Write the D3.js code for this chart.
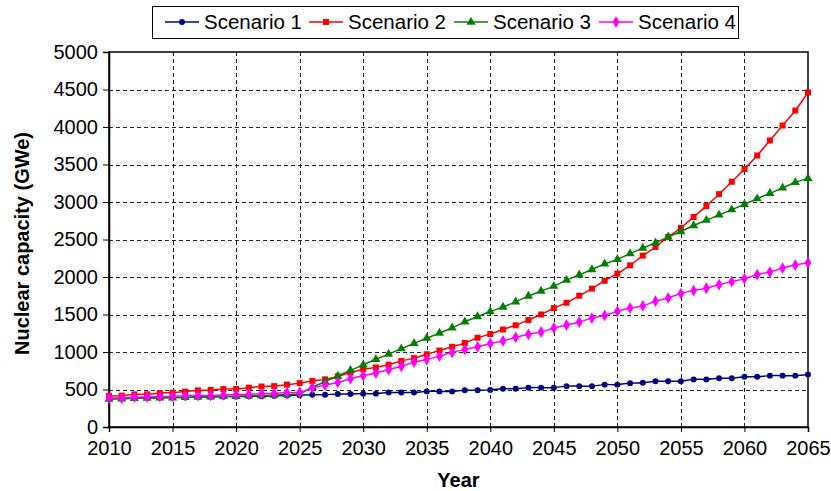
<!DOCTYPE html>
<html>
<head>
<meta charset="utf-8">
<script src="https://cdn.jsdelivr.net/npm/d3@7"></script>
<style>
  body { margin: 0; background: #fff; }
  svg { display: block; font-family: "Liberation Sans", Arial, sans-serif; }
</style>
</head>
<body>
<svg width="831" height="491"></svg>
<script>
// years 2010..2065, one value per year (GWe)
const years = d3.range(2010, 2066);

const scenario1 = [
    380, 380, 385, 390, 390, 395, 395, 400, 400, 405,
    405, 410, 410, 415, 420, 425, 430, 430, 440, 440,
    445, 445, 460, 460, 460, 475, 475, 475, 490, 490,
    495, 510, 510, 525, 525, 525, 545, 545, 545, 565,
    565, 585, 590, 610, 610, 610, 635, 635, 650, 650,
    670, 670, 685, 685, 685, 700
];
const scenario2 = [
    415, 418, 435, 436, 452, 458, 472, 488, 494, 505,
    508, 525, 540, 545, 565, 585, 615, 635, 675, 725,
    770, 795, 830, 880, 918, 970, 1020, 1070, 1120, 1190,
    1240, 1300, 1356, 1426, 1500, 1585, 1657, 1750, 1845, 1950,
    2045, 2155, 2285, 2400, 2535, 2655, 2800, 2945, 3105, 3270,
    3440, 3620, 3820, 4020, 4220, 4460
];
const scenario3 = [
    372, 375, 382, 385, 388, 390, 395, 400, 402, 408,
    410, 415, 420, 425, 432, 445, 530, 605, 680, 755,
    828, 903, 972, 1044, 1115, 1184, 1252, 1323, 1402, 1472,
    1540, 1600, 1670, 1745, 1812, 1878, 1958, 2029, 2100, 2175,
    2235, 2312, 2385, 2456, 2535, 2606, 2686, 2757, 2827, 2898,
    2969, 3044, 3115, 3190, 3261, 3315
];
const scenario4 = [
    386, 386, 398, 400, 405, 406, 418, 418, 420, 427,
    432, 436, 445, 450, 459, 462, 522, 558, 594, 644,
    684, 720, 765, 810, 864, 900, 945, 995, 1035, 1067,
    1115, 1147, 1196, 1236, 1267, 1320, 1360, 1400, 1453, 1488,
    1542, 1586, 1615, 1677, 1721, 1779, 1819, 1850, 1898, 1938,
    1978, 2031, 2066, 2119, 2159, 2190
];

const xTicks = d3.range(2010, 2066, 5);
const yTicks = d3.range(0, 5001, 500);

const series = [
    { name: 'Scenario 1', values: scenario1, color: '#000080', symbol: d3.symbolCircle, size: 28 },
    { name: 'Scenario 2', values: scenario2, color: '#FF0000', symbol: d3.symbolSquare, size: 36 },
    { name: 'Scenario 3', values: scenario3, color: '#008000', symbol: d3.symbolTriangle, size: 36 },
    { name: 'Scenario 4', values: scenario4, color: '#FF00FF', symbol: d3.symbolDiamond, size: 40 }
];

const svg = d3.select('svg');
const pL = 109, pR = 808, pT = 52, pB = 427;

const x = d3.scaleLinear().domain([2010, 2065]).range([pL, pR]);
const y = d3.scaleLinear().domain([0, 5000]).range([pB, pT]);

// grid
const grid = svg.append('g');
yTicks.slice(1, -1).forEach(d => {
    grid.append('line')
        .attr('x1', pL).attr('x2', pR)
        .attr('y1', Math.round(y(d)) + 0.5).attr('y2', Math.round(y(d)) + 0.5)
        .attr('stroke', '#222').attr('stroke-dasharray', '4,3');
});
xTicks.slice(1, -1).forEach(d => {
    grid.append('line')
        .attr('x1', Math.round(x(d)) + 0.5).attr('x2', Math.round(x(d)) + 0.5)
        .attr('y1', pT).attr('y2', pB)
        .attr('stroke', '#222').attr('stroke-dasharray', '4,3');
});

// frame
svg.append('rect')
    .attr('x', pL).attr('y', pT)
    .attr('width', pR - pL).attr('height', pB - pT)
    .attr('fill', 'none').attr('stroke', '#000').attr('stroke-width', 1.5);

// axes
const xAxis = d3.axisBottom(x).tickValues(xTicks).tickFormat(d3.format('d')).tickSize(5).tickPadding(9);
const yAxis = d3.axisLeft(y).tickValues(yTicks).tickFormat(d3.format('d')).tickSize(6).tickPadding(5);

svg.append('g').attr('transform', 'translate(0,' + pB + ')').call(xAxis)
    .call(g => g.select('.domain').attr('stroke-width', 1.5))
    .selectAll('text').attr('font-size', 20).attr('fill', '#000')
    .attr('font-family', '"Liberation Sans", Arial, sans-serif');

svg.append('g').attr('transform', 'translate(' + pL + ',0)').call(yAxis)
    .call(g => g.select('.domain').attr('stroke-width', 1.5))
    .selectAll('text').attr('font-size', 20).attr('fill', '#000')
    .attr('font-family', '"Liberation Sans", Arial, sans-serif');

// series
const line = d3.line()
    .x((d, i) => x(years[i]))
    .y(d => y(d))
    .curve(d3.curveCatmullRom);

series.forEach(s => {
    svg.append('path')
        .datum(s.values)
        .attr('fill', 'none')
        .attr('stroke', s.color)
        .attr('stroke-width', 1.5)
        .attr('d', line);

    svg.append('g').selectAll('path')
        .data(s.values)
        .join('path')
        .attr('transform', (d, i) => 'translate(' + x(years[i]) + ',' + y(d) + ')')
        .attr('d', d3.symbol().type(s.symbol).size(s.size))
        .attr('fill', s.color);
});

// axis titles
svg.append('text')
    .attr('x', (pL + pR) / 2).attr('y', 487)
    .attr('text-anchor', 'middle')
    .attr('font-size', 20).attr('font-weight', 'bold')
    .text('Year');

svg.append('text')
    .attr('transform', 'translate(29,' + ((pT + pB) / 2 + 4) + ') rotate(-90)')
    .attr('text-anchor', 'middle')
    .attr('font-size', 20).attr('font-weight', 'bold')
    .text('Nuclear capacity (GWe)');

// legend
const legend = svg.append('g');
legend.append('rect')
    .attr('x', 152.5).attr('y', 6.5).attr('width', 586).attr('height', 32)
    .attr('fill', '#fff').attr('stroke', '#000').attr('stroke-width', 1);

const legendX = [165, 309, 454, 599];
series.forEach((s, i) => {
    const g = legend.append('g').attr('transform', 'translate(' + legendX[i] + ',22)');
    g.append('line').attr('x1', 0).attr('x2', 34).attr('y1', 0).attr('y2', 0)
        .attr('stroke', s.color).attr('stroke-width', 1.5);
    g.append('path').attr('transform', 'translate(17,0)')
        .attr('d', d3.symbol().type(s.symbol).size(s.size))
        .attr('fill', s.color);
    g.append('text').attr('x', 39).attr('y', 7)
        .attr('font-size', 20.5)
        .text(s.name);
});
</script>
</body>
</html>
